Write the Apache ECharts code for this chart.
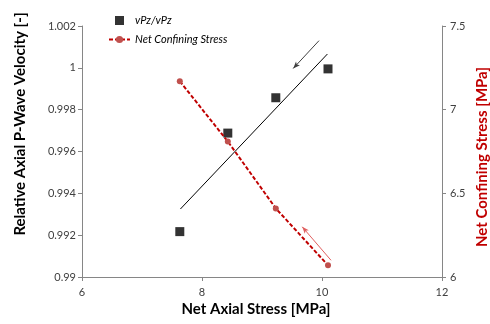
<!DOCTYPE html>
<html><head><meta charset="utf-8">
<script src="https://cdn.jsdelivr.net/npm/echarts@6/dist/echarts.min.js"></script>
<style>html,body{margin:0;padding:0;background:#fff}#c{width:490px;height:324px}</style>
</head><body><div id="c"></div>
<script>
// Data
const axialStress = [7.63, 8.43, 9.23, 10.1];
const velocityRatio = [0.99217, 0.99688, 0.99857, 0.99995];
const confiningStress = [7.17, 6.81, 6.41, 6.07];
const trendLine = [[7.64, 0.99325], [10.09, 1.00066]];
const xTicks = [6, 8, 10, 12];
const leftTicks = [0.99, 0.992, 0.994, 0.996, 0.998, 1, 1.002];
const rightTicks = [6, 6.5, 7, 7.5];
const arrowBlack = [[9.95, 1.0013], [9.52, 0.99997]];
const arrowRed = [[10.15, 6.10], [9.67, 6.30]];

const FONT = 'Lato';
const chart = echarts.init(document.getElementById('c'));
const axisLine = {show: true, lineStyle: {color: '#868686', width: 1}};
const axisLabel = {color: '#404040', fontSize: 11, fontFamily: FONT};
chart.setOption({
  animation: false,
  grid: {left: 82, right: 48, top: 26, bottom: 47},
  legend: {
    orient: 'vertical', left: 103, top: 10, itemGap: 8, itemWidth: 21, itemHeight: 9,
    symbolKeepAspect: true,
    textStyle: {fontStyle: 'italic', fontSize: 11, fontFamily: FONT, color: '#000'},
    data: [{name: 'vPz/vPz', icon: 'path://M0,0 L10,0 L10,10 L0,10 Z'}, {name: 'Net Confining Stress'}]
  },
  xAxis: {
    type: 'value', min: xTicks[0], max: xTicks[xTicks.length - 1], interval: 2,
    axisLine, axisTick: {show: true, length: 4, lineStyle: {color: '#868686'}},
    axisLabel: Object.assign({margin: 10}, axisLabel), splitLine: {show: false}
  },
  yAxis: [{
    type: 'value', min: leftTicks[0], max: leftTicks[leftTicks.length - 1], interval: 0.002,
    axisLine, axisTick: {show: true, length: 4, lineStyle: {color: '#868686'}},
    axisLabel: Object.assign({margin: 6, formatter: v => String(Number(v.toFixed(3)))}, axisLabel),
    splitLine: {show: false}
  }, {
    type: 'value', position: 'right', min: rightTicks[0], max: rightTicks[rightTicks.length - 1], interval: 0.5,
    axisLine, axisTick: {show: true, length: 4, lineStyle: {color: '#868686'}},
    axisLabel: Object.assign({margin: 8, formatter: v => String(Number(v.toFixed(1)))}, axisLabel),
    splitLine: {show: false}
  }],
  series: [{
    name: 'vPz/vPz', type: 'scatter', yAxisIndex: 0, symbol: 'rect', symbolSize: 9,
    itemStyle: {color: '#000'},
    data: axialStress.map((x, i) => [x, velocityRatio[i]])
  }, {
    name: 'trend', type: 'line', yAxisIndex: 0, symbol: 'none',
    lineStyle: {color: '#000', width: 1}, data: trendLine,
    markLine: {
      silent: true, symbol: ['none', 'arrow'], symbolSize: [4, 7],
      lineStyle: {color: '#404040', width: 1, type: 'solid'}, label: {show: false},
      data: [[{coord: arrowBlack[0]}, {coord: arrowBlack[1]}]]
    }
  }, {
    name: 'Net Confining Stress', type: 'line', yAxisIndex: 1, symbol: 'circle', symbolSize: 6,
    itemStyle: {color: '#c0504d'},
    lineStyle: {color: '#c00000', width: 2, type: [4, 2]},
    data: axialStress.map((x, i) => [x, confiningStress[i]]),
    markLine: {
      silent: true, symbol: ['none', 'arrow'], symbolSize: [4, 7],
      lineStyle: {color: '#e06060', width: 1, type: 'solid'}, label: {show: false},
      data: [[{coord: arrowRed[0]}, {coord: arrowRed[1]}]]
    }
  }],
  graphic: [
    {type: 'text', x: 20, y: 124, rotation: Math.PI / 2,
     style: {text: 'Relative Axial P-Wave Velocity [-]', font: 'bold 15px ' + FONT, fill: '#000', textAlign: 'center', textVerticalAlign: 'middle'}},
    {type: 'text', x: 482, y: 157, rotation: Math.PI / 2,
     style: {text: 'Net Confining Stress [MPa]', font: 'bold 15px ' + FONT, fill: '#c00000', textAlign: 'center', textVerticalAlign: 'middle'}},
    {type: 'text', x: 256, y: 309,
     style: {text: 'Net Axial Stress [MPa]', font: 'bold 15px ' + FONT, fill: '#000', textAlign: 'center', textVerticalAlign: 'middle'}}
  ]
});
</script></body></html>
